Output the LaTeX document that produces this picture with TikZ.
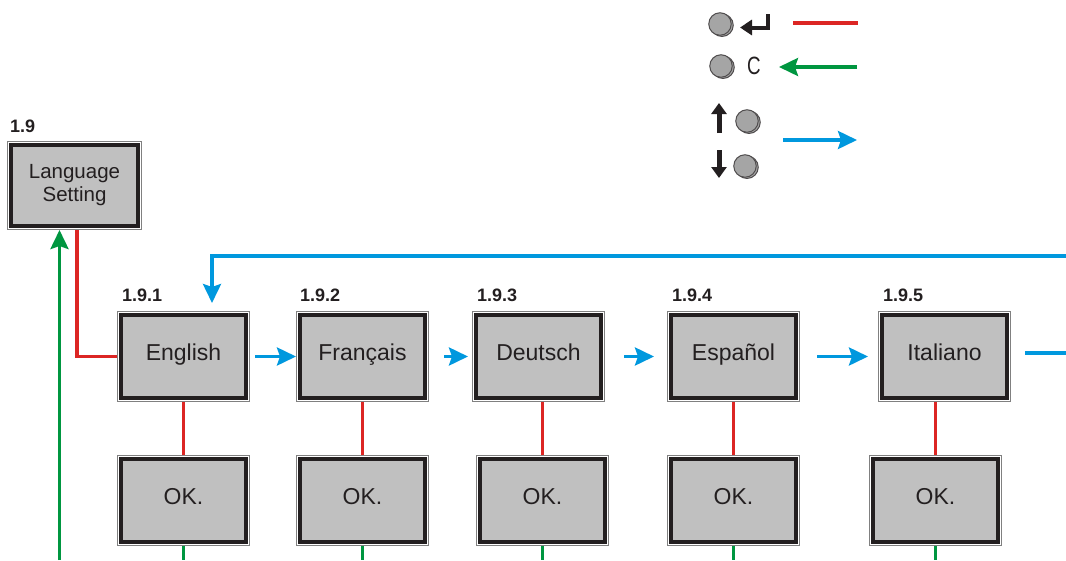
\documentclass[tikz,border=0pt]{standalone}
\usepackage{fontspec}
\setmainfont{Liberation Sans}
\usepackage{xcolor}
\usepackage{tikz}
\usetikzlibrary{positioning, arrows.meta, shadows}
\definecolor{enterred}{RGB}{220,38,36}
\definecolor{backgreen}{RGB}{0,150,64}
\definecolor{scrollblue}{RGB}{0,152,222}
\definecolor{boxgray}{RGB}{192,192,192}
\definecolor{knobgray}{RGB}{165,165,165}
\definecolor{inkblack}{RGB}{35,31,32}
\tikzset{
    menunode/.style  = {draw=inkblack, line width=4pt, fill=boxgray, align=center,
                        minimum width=125pt, minimum height=83pt, inner sep=0pt,
                        outer sep=4pt, text=inkblack, font=\fontsize{23}{26}\selectfont,
                        preaction={draw=gray, line width=8pt},
                        preaction={draw=white, line width=6pt}},
    itemnode/.style  = {menunode, text height=16.5pt, text depth=8pt},
    numlbl/.style    = {inner sep=0pt, text=inkblack, font=\bfseries\fontsize{18}{20}\selectfont},
    redline/.style   = {enterred, line width=3.5pt},
    greenline/.style = {backgreen, line width=3.5pt},
    blueline/.style  = {scrollblue, line width=3.5pt},
    keysym/.style    = {inkblack, line width=5pt, -{Triangle[length=11pt, width=15pt]}},
    knob/.style      = {circle, draw=inkblack!80, line width=1pt, fill=knobgray,
                        minimum size=22.5pt, inner sep=0pt,
                        copy shadow={shadow xshift=2pt, shadow yshift=-1.2pt}},
}

\begin{document}
\begin{tikzpicture}[x=1pt, y=-1pt, >={Stealth[length=19pt, width=18pt, inset=3pt]}]
\useasboundingbox (0,0) rectangle (1066,560);

% menu entry and language list
\node[menunode, font=\fontsize{20.5}{23}\selectfont, minimum width=127pt, minimum height=81pt]
    (lang) at (74.5,185.5) {Language\\Setting};
\node[numlbl, above right=8pt and 3pt of lang.north west] (langnum) {1.9};

\node[itemnode] (en) at (183.5,356.5) {English};
\node[itemnode, right=46pt of en] (fr) {Français};
\node[itemnode, right=43pt of fr] (de) {Deutsch};
\node[itemnode, right=62pt of de] (es) {Español};
\node[itemnode, right=78pt of es] (it) {Italiano};

\node[numlbl, above right=9pt and 5pt of en.north west] (ennum) {1.9.1};
\node[numlbl, above right=9pt and 4pt of fr.north west] (frnum) {1.9.2};
\node[numlbl, above right=9pt and 5pt of de.north west] (denum) {1.9.3};
\node[numlbl, above right=9pt and 5pt of es.north west] (esnum) {1.9.4};
\node[numlbl, above right=9pt and 5pt of it.north west] (itnum) {1.9.5};

% confirmation boxes
\node[itemnode, below=53pt of en] (okEn) {OK.};
\node[itemnode, below=53pt of fr] (okFr) {OK.};
\node[itemnode, below=53pt of de, xshift=4pt] (okDe) {OK.};
\node[itemnode, below=53pt of es] (okEs) {OK.};
\node[itemnode, below=53pt of it, xshift=-9pt] (okIt) {OK.};

\coordinate (greenfoot) at (59.5,560);
\coordinate (bluein) at (1066,256);
\coordinate (blueout) at (1066,353);

\draw[redline] ([xshift=2.5pt]lang.south) |- (en.west);
\draw[greenline, ->] (greenfoot) -- (greenfoot |- lang.south);

\draw[blueline, ->] (bluein) -| ([xshift=28.5pt, yshift=8pt]en.north);
\draw[blueline, ->] ([xshift=5pt]en.east) -- (fr.west);
\draw[blueline, ->] ([xshift=15pt]fr.east) -- ([xshift=-4pt]de.west);
\draw[blueline, ->] ([xshift=19pt]de.east) -- ([xshift=-13pt]es.west);
\draw[blueline, ->] ([xshift=17pt]es.east) -- ([xshift=-10pt]it.west);
\draw[blueline] ([xshift=14pt, yshift=3.5pt]it.east) -- (blueout);

\draw[redline] (okEn.north) -- (okEn.north |- en.south);
\draw[redline] (okFr.north) -- (okFr.north |- fr.south);
\draw[redline] (okDe.north) -- (okDe.north |- de.south);
\draw[redline] (okEs.north) -- (okEs.north |- es.south);
\draw[redline] (okIt.north) -- (okIt.north |- it.south);

\draw[greenline] (okEn.south) -- (okEn.south |- greenfoot);
\draw[greenline] (okFr.south) -- (okFr.south |- greenfoot);
\draw[greenline] (okDe.south) -- (okDe.south |- greenfoot);
\draw[greenline] (okEs.south) -- (okEs.south |- greenfoot);
\draw[greenline] (okIt.south) -- (okIt.south |- greenfoot);

% key legend
\node[knob] (kEnter) at (720,24) {};
\draw[keysym, line width=4pt, -{Triangle[length=12pt, width=15pt]}] (767.5,14) -- (767.5,27.5) -- (740,27.5);
\coordinate (redkeyA) at (793,23);
\coordinate (redkeyB) at (858,23);
\draw[redline] (redkeyA) -- (redkeyB);

\node[knob] (kClear) at (721,66) {};
\node[text=inkblack, font=\fontsize{25}{25}\selectfont, xscale=0.75, inner sep=0pt] (cLetter) at (754,66) {C};
\coordinate (greenkeyA) at (857,67);
\coordinate (greenkeyB) at (779,67);
\draw[greenline, ->] (greenkeyA) -- (greenkeyB);

\draw[keysym] (719,133) -- (719,103);
\node[knob] (kUp) at (747,121) {};
\draw[keysym] (719,150) -- (719,178);
\node[knob] (kDown) at (745,166) {};
\coordinate (bluekeyA) at (783,140);
\coordinate (bluekeyB) at (857,140);
\draw[blueline, ->] (bluekeyA) -- (bluekeyB);

\end{tikzpicture}
\end{document}
